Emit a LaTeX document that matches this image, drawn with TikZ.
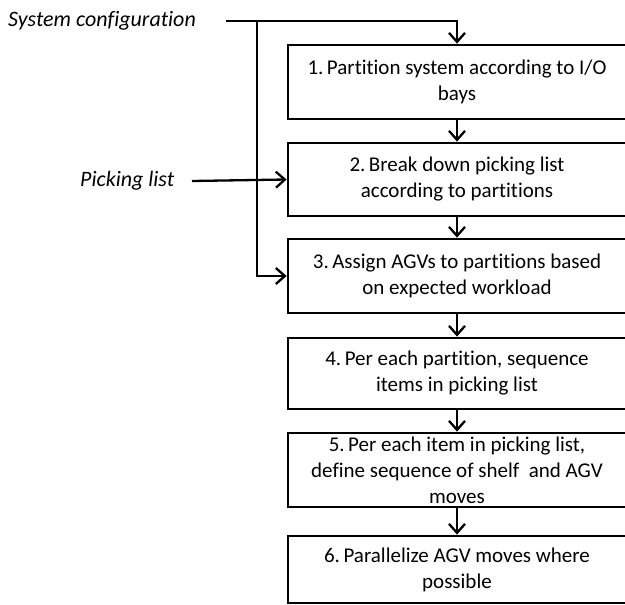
\documentclass[tikz,border=0pt]{standalone}
\usepackage{fontspec}
\setmainfont{Carlito}[Ligatures={NoCommon,NoContextual}]
\usetikzlibrary{arrows.meta}
\begin{document}
\begin{tikzpicture}[x=1pt,y=-1pt,
  stepbox/.style={draw, line width=2.8pt, minimum width=338pt, inner sep=0pt, align=center,
    font=\fontsize{21}{26}\selectfont},
  lbl/.style={anchor=west, inner sep=0pt, font=\fontsize{22}{26}\selectfont\itshape},
  conn/.style={line width=2.3pt, -{Straight Barb[length=9pt,width=16pt,line width=2.3pt]}},
  plain/.style={line width=2.3pt}]
\clip (0,0) rectangle (625,605);
\node[lbl] (sc) at (8,21) {System configuration};
\node[lbl] (pl) at (80,181) {Picking list};
\node[stepbox, minimum height=74pt] (b1) at (457,82) {1.\,Partition system according to I/O\\bays};
\node[stepbox, minimum height=73pt] (b2) at (457,179.5) {2.\,Break down picking list\\according to partitions};
\node[stepbox, minimum height=74pt] (b3) at (457,276) {3.\,Assign AGVs to partitions based\\on expected workload};
\node[stepbox, minimum height=71pt] (b4) at (457,373.5) {4.\,Per each partition, sequence\\items in picking list};
\node[stepbox, minimum height=74pt] (b5) at (457,470) {5.\,Per each item in picking list,\\define sequence of shelf\ \ and AGV\\moves};
\node[stepbox, minimum height=67pt] (b6) at (457,569.5) {6.\,Parallelize AGV moves where\\possible};
\coordinate (s0) at (226,21);
\coordinate (j) at (257,21);
\coordinate (p0) at (192,181);
\draw[conn] (s0) -| (b1.north);
\draw[conn] (j) |- (b3.west);
\draw[conn] (p0) -- (b2.west);
\draw[conn] (b1) -- (b2);
\draw[conn] (b2) -- (b3);
\draw[conn] (b3) -- (b4);
\draw[conn] (b4) -- (b5);
\draw[conn] (b5) -- (b6);
\end{tikzpicture}
\end{document}
